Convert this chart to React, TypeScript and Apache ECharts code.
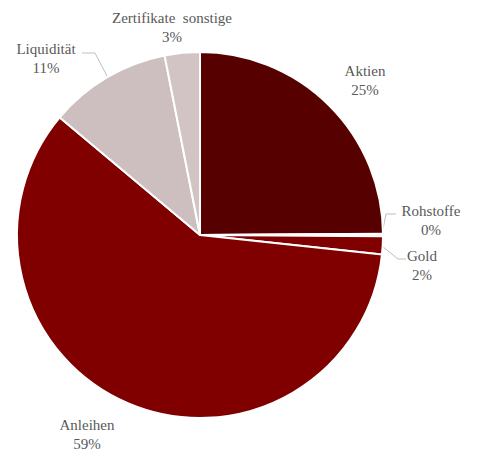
import React, { useEffect, useRef } from "react";
import * as echarts from "echarts";

const categories = ["Aktien", "Rohstoffe", "Gold", "Anleihen", "Liquidität", "Zertifikate  sonstige"];
const values = [24.9, 0.2, 1.6, 59.4, 10.8, 3.1];
const colors = ["#560000", "#7a0000", "#800000", "#800000", "#cdbfbf", "#d2c4c4"];
const showLines = [false, true, true, false, true, false];

// label centre positions (px) and guide-line points
const labelPos: [number, number][] = [
  [365, 80],
  [431, 220],
  [422, 265],
  [87, 434],
  [46, 58],
  [172, 27],
];
const linePoints: ([number, number][] | null)[] = [
  null,
  [[382, 234], [386, 214], [396, 214]],
  [[382, 246], [398, 259], [406, 259]],
  null,
  [[107, 76], [95, 53], [82, 53]],
  null,
];

const FONT = "Liberation Serif";

export default function App() {
  const ref = useRef<HTMLDivElement>(null);
  useEffect(() => {
    if (!ref.current) return;
    const chart = echarts.init(ref.current, null, { renderer: "svg" });
    chart.setOption({
      animation: false,
      backgroundColor: "#ffffff",
      textStyle: { fontFamily: FONT },
      series: [
        {
          type: "pie",
          center: [200, 235],
          radius: 183,
          startAngle: 90,
          clockwise: true,
          percentPrecision: 0,
          avoidLabelOverlap: false,
          itemStyle: { borderColor: "#ffffff", borderWidth: 2 },
          label: {
            show: true,
            position: "outside",
            formatter: "{b}\n{d}%",
            fontFamily: FONT,
            fontSize: 15,
            lineHeight: 19,
            color: "#595959",
            align: "center",
          },
          labelLine: {
            show: true,
            lineStyle: { color: "#bfbfbf", width: 1 },
          },
          labelLayout: (params: any) => {
            const i = params.dataIndex;
            const out: any = {
              x: labelPos[i][0],
              y: labelPos[i][1],
              align: "center",
              verticalAlign: "middle",
            };
            if (linePoints[i]) out.labelLinePoints = linePoints[i];
            return out;
          },
          data: categories.map((name, i) => ({
            name,
            value: values[i],
            itemStyle: { color: colors[i] },
            labelLine: { show: showLines[i] },
          })),
        },
      ],
    });
    return () => chart.dispose();
  }, []);
  return (
    <div
      ref={ref}
      style={{ position: "fixed", left: 0, top: 0, width: 479, height: 450 }}
    />
  );
}
